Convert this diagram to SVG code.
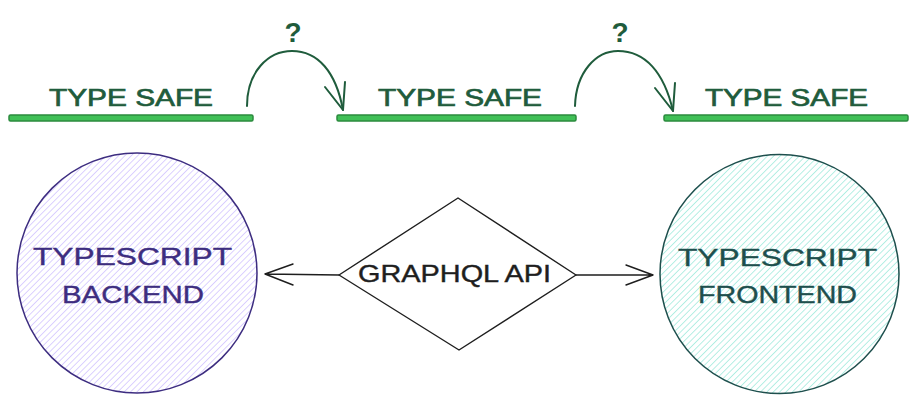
<svg xmlns="http://www.w3.org/2000/svg" width="919" height="403" viewBox="0 0 919 403">
<style>
  .bar { fill: #40c057; stroke: #2b8a3e; stroke-width: 1.5; }
  .ts { font-family: "Liberation Sans", "DejaVu Sans", sans-serif; font-size: 24px; fill: #1f5c3c; stroke: #1f5c3c; stroke-width: 0.7; }
  .q { font-family: "Liberation Sans", sans-serif; font-size: 28px; font-weight: bold; fill: #1f5c3c; text-anchor: middle; }
  .garc { fill: none; stroke: #1f5c3c; stroke-width: 2; stroke-linecap: round; stroke-linejoin: round; }
  .lbl { font-family: "Liberation Sans", "DejaVu Sans", sans-serif; font-size: 24px; stroke-width: 0.4; }
  .conn { fill: none; stroke: #1e1e1e; stroke-width: 1.4; stroke-linecap: round; stroke-linejoin: round; }
</style>
<defs>
  <pattern id="hPurple" patternUnits="userSpaceOnUse" width="4.5" height="4.5" patternTransform="rotate(45)">
    <line x1="0" y1="0" x2="0" y2="4.5" stroke="#c9b8ff" stroke-width="1.3"/>
  </pattern>
  <pattern id="hTeal" patternUnits="userSpaceOnUse" width="4.5" height="4.5" patternTransform="rotate(45)">
    <line x1="0" y1="0" x2="0" y2="4.5" stroke="#8ee6d6" stroke-width="1.3"/>
  </pattern>
</defs>

<g id="typesafe-1">
  <rect class="bar" x="9" y="115" width="244" height="6" rx="1.5"/>
  <text class="ts" x="49" y="106" textLength="164" lengthAdjust="spacingAndGlyphs">TYPE SAFE</text>
</g>
<g id="typesafe-2">
  <rect class="bar" x="337" y="115" width="239" height="6" rx="1.5"/>
  <text class="ts" x="378" y="106" textLength="164" lengthAdjust="spacingAndGlyphs">TYPE SAFE</text>
</g>
<g id="typesafe-3">
  <rect class="bar" x="664" y="115" width="244" height="6" rx="1.5"/>
  <text class="ts" x="705" y="106" textLength="163" lengthAdjust="spacingAndGlyphs">TYPE SAFE</text>
</g>

<g id="backend">
  <circle cx="137" cy="273" r="120" fill="url(#hPurple)" stroke="#3d2d80" stroke-width="1.5"/>
  <text class="lbl" x="33" y="265" fill="#3d2d80" stroke="#3d2d80" textLength="199" lengthAdjust="spacingAndGlyphs">TYPESCRIPT</text>
  <text class="lbl" x="62" y="303" fill="#3d2d80" stroke="#3d2d80" textLength="142" lengthAdjust="spacingAndGlyphs">BACKEND</text>
</g>

<g id="graphql">
  <polygon points="339,275 458,198 576,275 459,350" fill="#ffffff" stroke="#1e1e1e" stroke-width="1.4" stroke-linejoin="round"/>
  <text class="lbl" x="358" y="282" fill="#1e1e1e" stroke="#1e1e1e" textLength="193" lengthAdjust="spacingAndGlyphs">GRAPHQL API</text>
</g>

<g id="frontend">
  <circle cx="779.5" cy="274" r="119.5" fill="url(#hTeal)" stroke="#1e4f4d" stroke-width="1.5"/>
  <text class="lbl" x="678" y="266" fill="#1e4f4d" stroke="#1e4f4d" textLength="199" lengthAdjust="spacingAndGlyphs">TYPESCRIPT</text>
  <text class="lbl" x="698" y="303" fill="#1e4f4d" stroke="#1e4f4d" textLength="159" lengthAdjust="spacingAndGlyphs">FRONTEND</text>
</g>

<g id="connectors">
  <path class="garc" d="M247,106 C247,72 268,51 292,51 C318,51 336,72 343,110"/>
  <path class="garc" d="M325,87 L343,110 L345,82"/>
  <text class="q" x="293" y="42">?</text>
  <path class="garc" d="M575,106 C576,72 596,51 618,51 C645,51 664,72 673,111"/>
  <path class="garc" d="M655,88 L673,111 L675,83"/>
  <text class="q" x="620" y="42">?</text>
  <path class="conn" d="M339,275 L265,274 M293,264 L265,274 L293,285"/>
  <path class="conn" d="M576,275 L653,275 M626,265 L653,275 L626,285"/>
</g>
</svg>
